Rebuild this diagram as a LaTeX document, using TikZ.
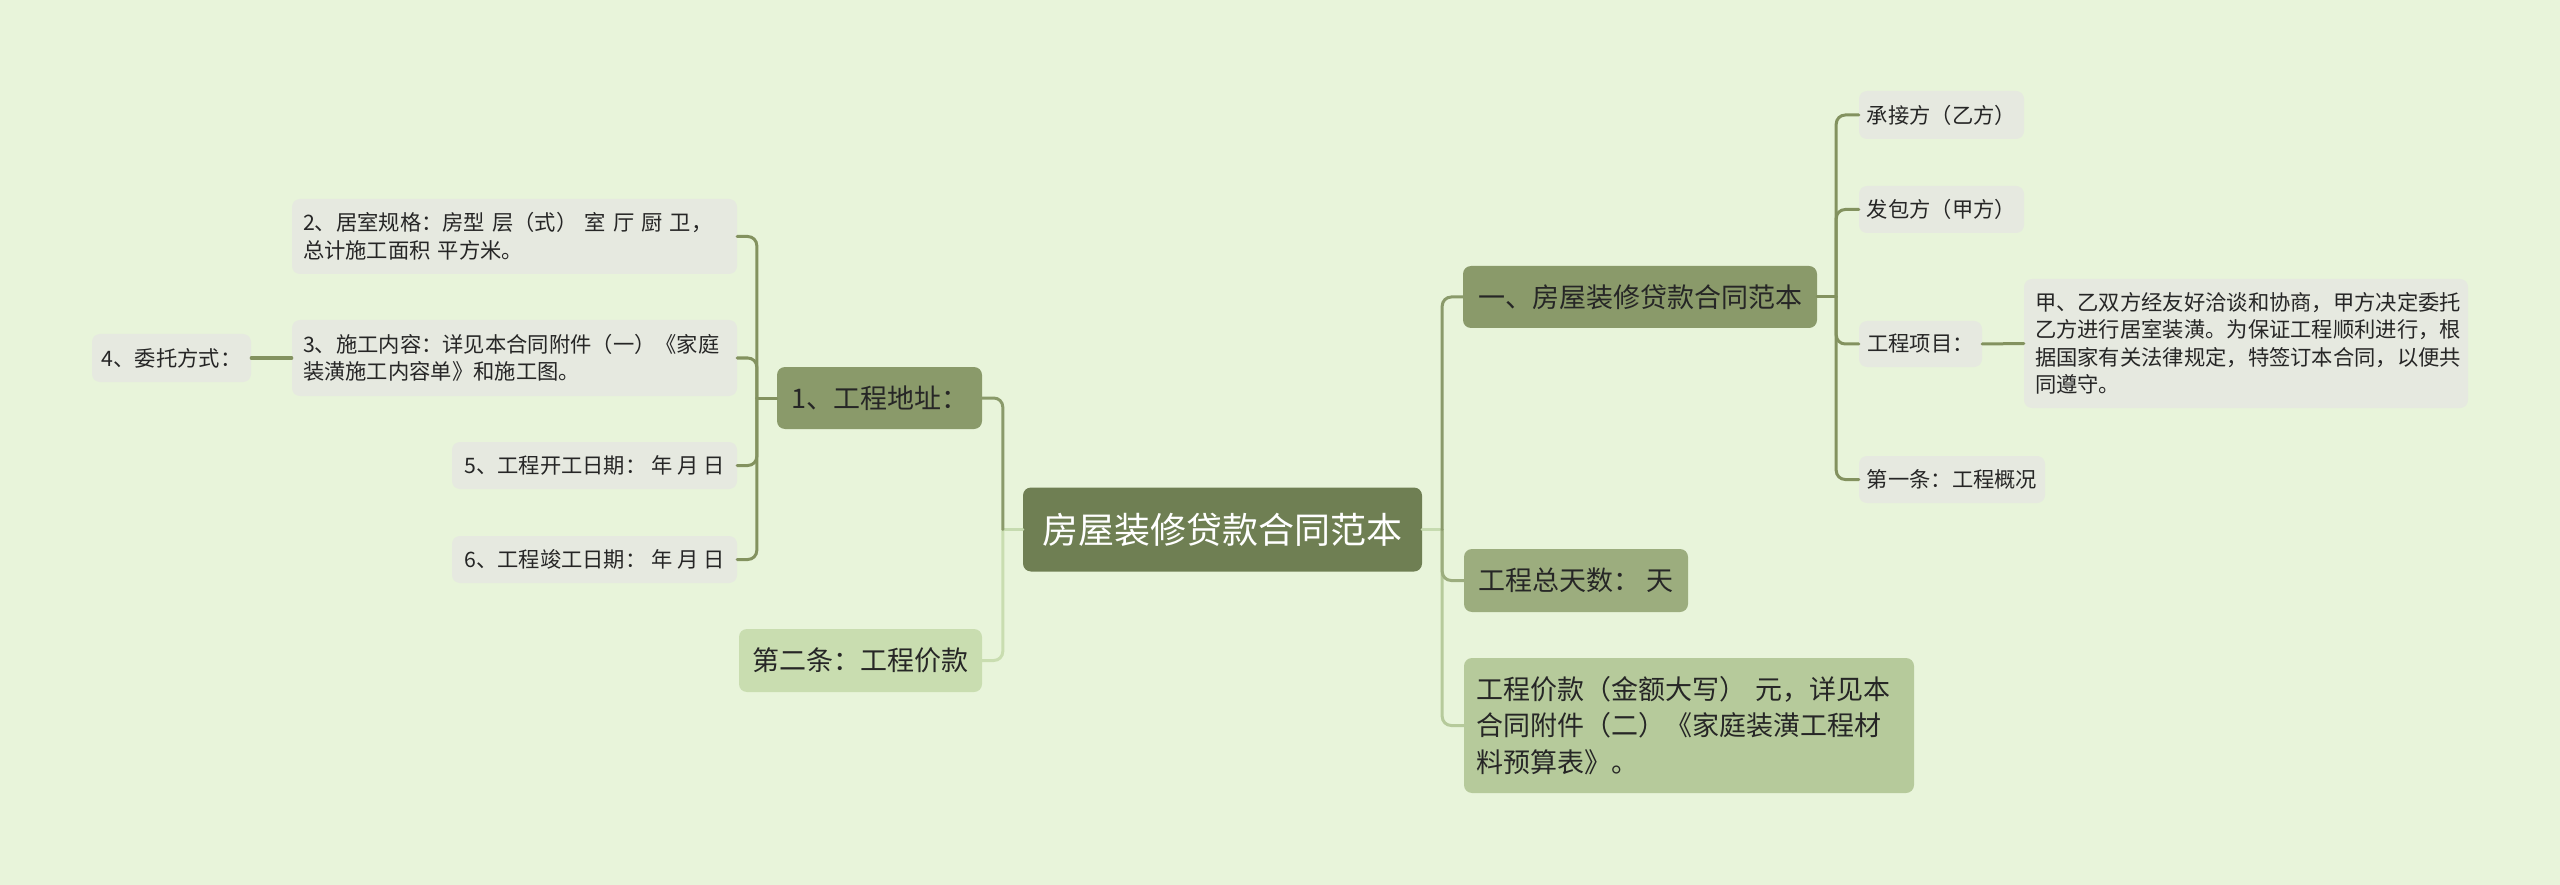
\documentclass[tikz,border=0pt]{standalone}
\usepackage{fontspec}
\setmainfont{Noto Sans CJK SC}
\definecolor{bg}{HTML}{E8F4DA}
\definecolor{rootfill}{HTML}{6F7F53}
\definecolor{darkfill}{HTML}{8A9A6A}
\definecolor{medfill}{HTML}{9CAD7E}
\definecolor{lightfill}{HTML}{B6CA9B}
\definecolor{palefill}{HTML}{C9DDB0}
\definecolor{leaffill}{HTML}{E6E9E0}
\definecolor{txt}{HTML}{262626}
\definecolor{linkdark}{HTML}{83925F}
\definecolor{stub}{HTML}{C6DBB0}
\begin{document}
\begin{tikzpicture}[x=1pt,y=-1pt,
  box/.style={rounded corners=8pt, inner sep=0pt, align=left, text=txt},
  leaf/.style={box, fill=leaffill, font=\fontsize{21.3}{27.5}\selectfont},
  mid/.style={box, font=\fontsize{27}{36.5}\selectfont},
  multi/.style={inner xsep=11pt, text width=#1},
  link/.style={line width=3pt, rounded corners=9pt, line cap=round},
]
\fill[bg] (0,0) rectangle (2560,885);
\useasboundingbox (0,0) rectangle (2560,885);

% root
\node[box, fill=rootfill, text=white, font=\fontsize{36}{40}\selectfont,
  minimum width=399pt, minimum height=84pt] (root) at (1222.5,529.5) {房屋装修贷款合同范本};

% level 1
\node[mid, fill=darkfill, minimum width=205pt, minimum height=62pt] (c1) at (879.5,398) {1、工程地址：};
\node[mid, fill=palefill, minimum width=243pt, minimum height=63pt] (c2) at (860.5,660.5) {第二条：工程价款};
\node[mid, fill=darkfill, minimum width=354pt, minimum height=62pt] (r1) at (1640,297) {一、房屋装修贷款合同范本};
\node[mid, fill=medfill, minimum width=224pt, minimum height=63pt] (r2) at (1576,580.5) {工程总天数： 天};
\node[mid, fill=lightfill, multi=426pt, inner xsep=12pt, minimum height=135pt] (r3) at (1689,725.5)
  {工程价款（金额大写） 元，详见本\\合同附件（二）《家庭装潢工程材\\料预算表》。};

% leaves left
\node[leaf, multi=423pt, minimum height=75pt] (l2) at (514.5,236.5)
  {2、居室规格：房型 层（式） 室 厅 厨 卫，\\总计施工面积 平方米。};
\node[leaf, multi=423pt, minimum height=76pt] (l3) at (514.5,358)
  {3、施工内容：详见本合同附件（一）《家庭\\装潢施工内容单》和施工图。};
\node[leaf, minimum width=285pt, minimum height=47pt] (l5) at (594.5,465.5) {5、工程开工日期： 年 月 日};
\node[leaf, minimum width=285pt, minimum height=47pt] (l6) at (594.5,559.5) {6、工程竣工日期： 年 月 日};
\node[leaf, minimum width=159pt, minimum height=48pt] (l4) at (171.5,358) {4、委托方式：};

% leaves right
\node[leaf, minimum width=165pt, minimum height=48pt] (a1) at (1941.5,115) {承接方（乙方）};
\node[leaf, minimum width=165pt, minimum height=47pt] (a2) at (1941.5,209.5) {发包方（甲方）};
\node[leaf, minimum width=123pt, minimum height=46pt] (a3) at (1920.5,344) {工程项目：};
\node[leaf, minimum width=186pt, minimum height=47pt] (a4) at (1952,479.5) {第一条：工程概况};
\node[leaf, multi=422pt, minimum height=129pt] (b) at (2246,343.5)
  {甲、乙双方经友好洽谈和协商，甲方决定委托\\乙方进行居室装潢。为保证工程顺利进行，根\\据国家有关法律规定，特签订本合同，以便共\\同遵守。};

% junction coordinates
\coordinate (rl) at ([xshift=-20pt]root.west);
\coordinate (rr) at ([xshift=20pt]root.east);
\coordinate (c1l) at ([xshift=-20pt]c1.west);
\coordinate (r1r) at ([xshift=19pt]r1.east);

% root links
\draw[link, stub] (root.west) -- (rl);
\draw[link, stub] (root.east) -- (rr);
\draw[link, palefill] (rl) |- (c2.east);
\draw[link, lightfill] (rr) |- (r3.west);
\draw[link, medfill] (rr) |- (r2.west);
\draw[link, darkfill] (rl) |- (c1.east);
\draw[link, darkfill] (rr) |- (r1.west);

% sub links
\draw[link, linkdark] (c1.west) -- (c1l);
\draw[link, linkdark] (c1l) |- (l2.east);
\draw[link, linkdark] (c1l) |- (l3.east);
\draw[link, linkdark] (c1l) |- (l5.east);
\draw[link, linkdark] (c1l) |- (l6.east);
\draw[link, linkdark] (l3.west) -- (l4.east);

\draw[link, linkdark] (r1.east) -- (r1r);
\draw[link, linkdark] (r1r) |- (a1.west);
\draw[link, linkdark] (r1r) |- (a2.west);
\draw[link, linkdark] (r1r) |- (a3.west);
\draw[link, linkdark] (r1r) |- (a4.west);
\draw[link, linkdark] (a3.east) -- (b.west);
\end{tikzpicture}
\end{document}
